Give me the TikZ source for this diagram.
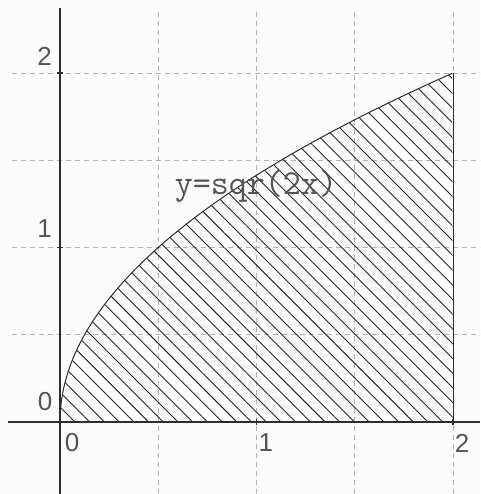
\documentclass[tikz,border=0pt]{standalone}
\usepackage{fontspec}
\setmainfont{Liberation Sans}
\usepackage{tikz}
\usetikzlibrary{patterns.meta}
\definecolor{gridgray}{RGB}{178,178,178}
\definecolor{labelgray}{RGB}{85,85,85}
\definecolor{axisgray}{RGB}{45,45,45}

\begin{document}
\begin{tikzpicture}[x=196.5pt,y=174.5pt,
  gridline/.style={gridgray,line width=0.9pt,dash pattern=on 5pt off 4pt},
  axisline/.style={axisgray,line width=1.4pt},
  curveline/.style={axisgray,line width=1pt},
  ticklabel/.style={labelgray,inner sep=0pt,font=\fontsize{26}{26}\selectfont},
  curvelabel/.style={labelgray,inner sep=0pt,font=\ttfamily\fontsize{35}{35}\selectfont}]
%frame
\useasboundingbox[fill=gray!2] (-60pt,-72pt) rectangle (420pt,422pt);
%grid
%vertical
\draw[gridline] (0.5,-0.4126) -- (0.5,2.3725);
\draw[gridline] (1,-0.4126) -- (1,2.3725);
\draw[gridline] (1.5,-0.4126) -- (1.5,2.3725);
\draw[gridline] (2,-0.4126) -- (2,2.3725);
%horizontal
\draw[gridline] (-0.2443,0.5) -- (2.1374,0.5);
\draw[gridline] (-0.2443,1) -- (2.1374,1);
\draw[gridline] (-0.2443,1.5) -- (2.1374,1.5);
\draw[gridline] (-0.2443,2) -- (2.1374,2);

%region
\fill[pattern={Lines[angle=-45,distance=10.4pt,line width=0.9pt]},pattern color=black!85]
  (0,0) -- plot[domain=0:2,samples=150] ({\x*\x/2},\x) -- (2,0) -- cycle;
\draw[curveline] plot[domain=0:2,samples=150] ({\x*\x/2},\x);
\draw[curveline] (2,0) -- (2,2);

%axes
\draw[axisline] (-0.2646,0) -- (2.1374,0);
\draw[axisline] (0,-0.4126) -- (0,2.3725);
%ticks
\draw[axisline] (1,0) ++(0,-3pt) -- ++(0,6pt);
\draw[axisline] (2,0) ++(0,-3pt) -- ++(0,6pt);
\draw[axisline] (0,1) ++(-3pt,0) -- ++(6pt,0);
\draw[axisline] (0,2) ++(-3pt,0) -- ++(6pt,0);

%labels
\node[ticklabel] (y0) at (-0.0763,0.1146) {0};
\node[ticklabel] (y1) at (-0.0789,1.106) {1};
\node[ticklabel] (y2) at (-0.0789,2.097) {2};
\node[ticklabel] (x0) at (0.061,-0.120) {0};
\node[ticklabel] (x1) at (1.048,-0.120) {1};
\node[ticklabel] (x2) at (2.046,-0.120) {2};
%curve name
\node[curvelabel] (fname) at (0.997,1.352) {y=sqr(2x)};
\end{tikzpicture}
\end{document}
